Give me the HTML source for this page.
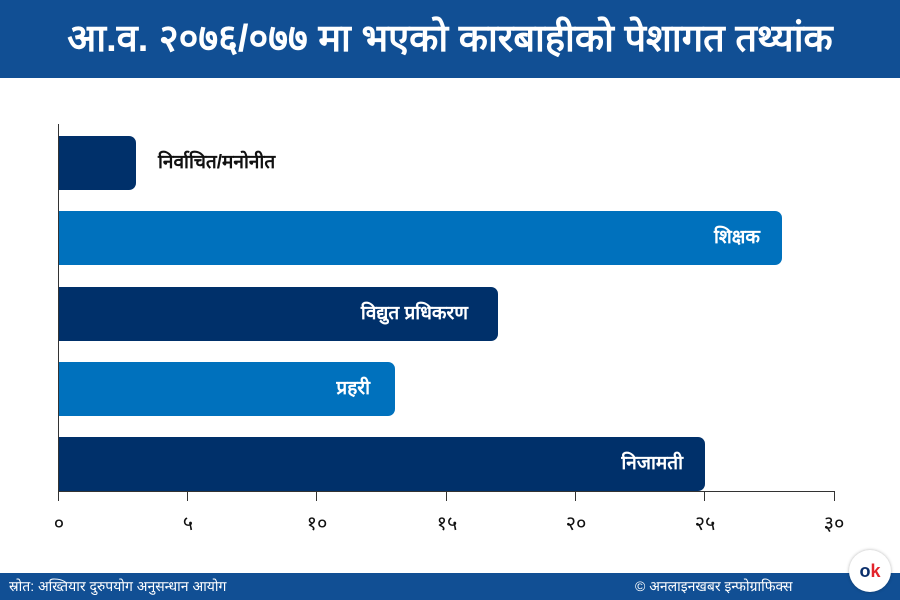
<!DOCTYPE html>
<html><head><meta charset="utf-8"><style>
body{margin:0;width:900px;height:600px;position:relative;background:#fff;font-family:"Liberation Sans","Noto Sans CJK SC",sans-serif;overflow:hidden}
.title{position:absolute;left:0;top:0;width:900px;height:78px;background:#114f94;color:#fff;font-size:38px;font-weight:bold;line-height:78px;text-align:center;white-space:nowrap}
.bar{position:absolute;left:59px;height:54px;border-radius:0 7px 7px 0;color:#fff;font-weight:bold;font-size:19px;line-height:54px;text-align:right;box-sizing:border-box;padding-right:22px}
.d{background:#00306a}.l{background:#0071bd}
.tick{position:absolute;top:491px;width:1px;height:10px;background:#333}
.tl{position:absolute;top:509px;width:40px;margin-left:-20px;text-align:center;font-size:20px;color:#111}
.foot{position:absolute;left:0;top:573px;width:900px;height:27px;background:#114f94;color:#fff;font-size:14px;line-height:27px}
</style></head><body>
<div class="title">आ.व. २०७६/०७७ मा भएको कारबाहीको पेशागत तथ्यांक</div>
<div style="position:absolute;left:58px;top:124px;width:1px;height:376px;background:#333"></div>
<div style="position:absolute;left:58px;top:491px;width:777px;height:1px;background:#333"></div>
<div class="bar d" style="top:136px;width:77px"></div>
<div style="position:absolute;left:158px;top:136px;line-height:54px;font-size:19px;font-weight:bold;color:#111">निर्वाचित/मनोनीत</div>
<div class="bar l" style="top:211px;width:723px">शिक्षक</div>
<div class="bar d" style="top:287px;width:439px;padding-right:30px">विद्युत प्रधिकरण</div>
<div class="bar l" style="top:362px;width:336px;padding-right:25px">प्रहरी</div>
<div class="bar d" style="top:437px;width:646px">निजामती</div>
<div class="tick" style="left:58px"></div><div class="tick" style="left:187px"></div><div class="tick" style="left:316px"></div><div class="tick" style="left:446px"></div><div class="tick" style="left:575px"></div><div class="tick" style="left:704px"></div><div class="tick" style="left:834px"></div>
<div class="tl" style="left:59px">०</div><div class="tl" style="left:188px">५</div><div class="tl" style="left:317px">१०</div><div class="tl" style="left:447px">१५</div><div class="tl" style="left:576px">२०</div><div class="tl" style="left:705px">२५</div><div class="tl" style="left:834px">३०</div>
<div class="foot"><span style="position:absolute;left:9px">स्रोत: अख्तियार दुरुपयोग अनुसन्धान आयोग</span><span style="position:absolute;left:635px">© अनलाइनखबर इन्फोग्राफिक्स</span></div>
<div style="position:absolute;left:849px;top:550px;width:42px;height:42px;border-radius:50%;background:#fff;box-shadow:0 0 3px rgba(0,0,0,.3);font-weight:bold;font-size:18px;line-height:42px;text-align:center"><span style="color:#0b2f6b">o</span><span style="color:#e2232a">k</span></div>
</body></html>
